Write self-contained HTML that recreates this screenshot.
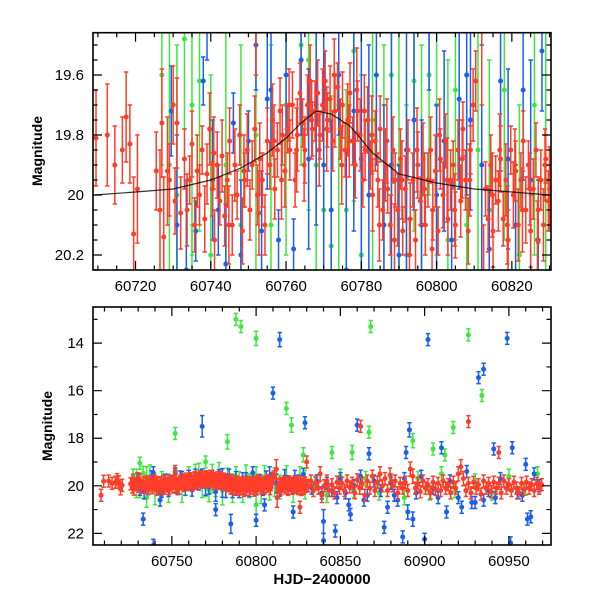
<!DOCTYPE html>
<html><head><meta charset="utf-8"><style>
html,body{margin:0;padding:0;background:#fff;width:600px;height:600px;overflow:hidden;}
#wrap{position:absolute;left:0;top:0;width:600px;height:600px;overflow:hidden;}
svg{position:absolute;left:0;top:0;display:block;overflow:hidden;font-family:"Liberation Sans",Arial,sans-serif;}
</style></head><body>
<div id="wrap">
<svg id="chart" width="600" height="600" viewBox="0 0 600 600" xmlns="http://www.w3.org/2000/svg">
<defs>
<clipPath id="clipTop"><rect x="93" y="32.7" width="458" height="237.3"/></clipPath>
<clipPath id="clipBot"><rect x="93" y="307" width="458" height="238"/></clipPath>
</defs>
<g id="top"></g>
<g id="bot"></g>
<text transform="translate(42,151) rotate(-90)" text-anchor="middle" font-size="14" font-weight="bold">Magnitude</text>
<text transform="translate(52,426) rotate(-90)" text-anchor="middle" font-size="14" font-weight="bold">Magnitude</text>
<text x="322" y="584" text-anchor="middle" font-size="15" font-weight="bold">HJD−2400000</text>
</svg>
</div>
<script>
const NS="http://www.w3.org/2000/svg";
const topXTicks=[60720,60740,60760,60780,60800,60820];
const topYTicks=[19.6,19.8,20,20.2];
const botXTicks=[60750,60800,60850,60900,60950];
const botYTicks=[14,16,18,20,22];
const modelT=[60709,60720,60730,60740,60748,60755,60760,60764,60768,60772,60777,60783,60790,60800,60810,60820,60830];
const modelM=[20.0,19.99,19.98,19.95,19.91,19.86,19.81,19.76,19.72,19.73,19.77,19.86,19.93,19.96,19.98,19.99,20.0];
const redPts=[[60709.5,19.81,.16],[60712.5,19.80,.17],[60714.5,19.90,.13],[60716.5,19.85,.11],[60717.5,19.74,.15],[60718.5,19.83,.13],[60719.5,20.13,.19],[60720.5,19.98,.18],[60725.5,19.92,.13],[60726.5,20.05,.2],[60727,19.76,.18],[60727.5,20.14,.2],[60728.5,19.92,.18],[60729,19.95,.12],[60730,19.70,.13],[60730.5,20.02,.11],[60731,19.76,.15],[60732,20.06,.12],
[60733,19.88,.1],[60733.7,20.05,.12],[60734.4,19.95,.08],[60735,19.83,.11],[60735.7,20.1,.09],[60736.4,19.92,.12],[60737,20.0,.1],[60737.7,19.85,.08],[60738.4,20.08,.11],[60739,19.93,.1],[60739.7,19.78,.12],[60740.4,19.98,.09],[60741,20.15,.1],[60741.7,19.9,.11],[60742.4,20.02,.08],[60743,19.87,.12],[60743.7,20.07,.1],[60744.4,19.95,.09],[60745,19.82,.11],[60745.7,20.1,.1],[60746.4,19.9,.12],[60747,20.0,.08],[60747.7,19.8,.1],[60748.4,20.12,.11],[60749,19.95,.09],[60749.7,19.85,.12],[60750.4,20.05,.1],[60751,19.9,.08],[60751.7,19.78,.11],[60752.4,20.0,.1],[60753,19.88,.12],[60753.7,19.95,.09],[60754.4,20.1,.1],[60755,19.82,.11],[60755.7,19.9,.08],[60756.4,19.75,.12],[60757,19.98,.1],[60757.7,19.85,.09],[60758.4,19.72,.11],[60759,19.8,.1],[60759.7,19.92,.12],[60760.4,19.78,.08],[60761,19.85,.1],[60761.7,19.7,.11],[60762.4,19.95,.09],[60763,19.8,.12],[60763.7,19.66,.1],[60764.4,19.76,.08],[60765,19.85,.11],[60765.7,19.7,.1],[60766.4,19.62,.12],[60767,19.78,.09],[60767.7,19.72,.1],[60768.4,19.66,.11],[60769,19.8,.08],[60769.7,19.7,.12],[60770.4,19.62,.1],[60771,19.75,.09],[60771.7,19.68,.11],[60772.4,19.82,.1],[60773,19.72,.12],[60773.7,19.64,.08],[60774.4,19.78,.1],[60775,19.7,.11],[60775.7,19.85,.09],[60776.4,19.75,.12],[60777,19.66,.1],[60777.7,19.82,.08],[60778.4,19.9,.11],[60779,19.72,.1],[60779.7,19.8,.12],[60780.4,19.95,.09],[60781,19.85,.1],[60781.7,19.75,.11],[60782.4,19.9,.08],[60783,20.0,.12],[60783.7,19.82,.1],[60784.4,19.95,.09],[60785,19.78,.11],[60785.7,20.05,.1],[60786.4,19.9,.12],[60787,19.98,.08],[60787.7,20.1,.1],[60788.4,19.85,.11],[60789,19.95,.09],[60789.7,20.05,.12],[60790.4,19.88,.1],[60791,20.12,.08],[60791.7,19.98,.11],[60792.4,19.85,.1],[60793,20.08,.12],[60793.7,19.95,.09],[60794.4,20.15,.1],[60795,19.9,.11],[60795.7,20.02,.08],[60796.4,19.88,.12],[60797,20.1,.1],[60797.7,19.95,.09],[60798.4,19.85,.11],[60799,20.05,.1],[60799.7,19.92,.12],[60800.4,20.12,.08],[60801,19.88,.1],[60801.7,20.0,.11],[60802.4,19.82,.09],[60803,20.08,.12],[60803.7,19.95,.1],[60804.4,19.9,.08],[60805,20.1,.11],[60805.7,19.85,.1],[60806.4,20.02,.12],[60807,19.78,.09],[60807.7,19.95,.1],[60808.4,20.12,.11],[60809,19.85,.08],[60809.7,19.7,.12],[60810.4,19.62,.1],[60813,19.98,.09],[60813.7,20.08,.11],[60814.4,19.9,.1],[60815,20.12,.12],[60815.7,19.95,.08],[60816.4,20.02,.1],[60817,19.88,.11],[60817.7,20.08,.09],[60818.4,19.95,.12],[60819,20.15,.1],[60819.7,19.85,.08],[60820.4,20.0,.11],[60821,19.92,.1],[60821.7,20.1,.12],[60822.4,19.95,.09],[60823,19.82,.1],[60823.7,20.05,.11],[60824.4,19.9,.08],[60825,20.12,.12],[60825.7,19.98,.1],[60826.4,19.85,.09],[60827,20.05,.11],[60827.7,19.95,.1],[60828.4,20.1,.12],[60829,19.88,.08],[60829.7,20.02,.1],
[60740.8,19.86,.12],[60744.8,20.1,.13],[60748.8,19.92,.12],[60752.8,20.06,.14],[60756.8,19.82,.12],[60758.8,19.95,.13],[60760.8,19.7,.12],[60762.8,19.85,.14],[60764.8,19.9,.12],[60766.8,19.75,.13],[60768.8,19.85,.12],[60770.8,19.78,.14],[60772.8,19.6,.12],[60774.8,19.9,.13],[60776.8,19.82,.12],[60778.8,19.65,.14],[60780.8,19.72,.12],[60782.8,19.8,.13],[60784.8,20.1,.12],[60786.8,19.82,.14],[60788.8,20.15,.12],[60790.8,19.95,.13],[60792.8,20.2,.12],[60794.8,19.85,.14],[60796.8,19.98,.12],[60798.8,20.18,.13],[60800.8,19.8,.12],[60802.8,19.95,.14],[60804.8,20.05,.12],[60806.8,19.88,.13],[60808.8,19.95,.12],[60814.8,20.0,.14],[60816.8,19.85,.12],[60818.8,20.1,.13],[60820.8,19.9,.12],[60822.8,20.05,.14],[60824.8,19.98,.12],[60826.8,20.15,.13],[60828.8,19.9,.12],[60830,19.98,.14],
[60831,20.0,.2],[60832.5,19.8,.25],[60834,20.2,.2],[60835.5,19.9,.2],[60837,20.1,.25],[60838,19.5,.3],[60839,20.4,.3],[60840.5,20.0,.2],[60842,19.8,.2],[60843.5,20.2,.25],[60845,19.95,.2],[60846.5,20.3,.2],[60848,19.85,.2],[60849.5,20.1,.25],[60851,19.9,.2],[60852.5,20.2,.2],[60854,19.8,.25],[60855.5,20.05,.2],[60857,19.9,.2],[60858.5,20.3,.25],[60860,19.75,.2],[60861.5,20.1,.2],[60863,19.9,.25],[60864.5,20.4,.2],[60866,19.8,.2],[60867.5,20.1,.25],[60869,19.6,.2],[60870.5,20.2,.2],[60872,19.85,.25],[60873.5,19.5,.3],[60875,20.0,.2],[60876.5,19.7,.25],[60878,20.2,.2],[60879.5,19.55,.3],[60881,20.0,.2],[60882.5,19.8,.25],[60884,20.3,.2],[60885.5,19.9,.2],[60887,20.1,.25],[60888.5,19.85,.2],[60890,20.2,.2],[60891.5,19.3,.3],[60893,19.6,.3],[60894.5,20.1,.25],[60896,19.9,.2],[60897.5,20.25,.2],[60899,19.8,.25],[60900.5,20.1,.2],[60902,19.95,.2],[60903.5,20.3,.25],[60905,19.85,.2],[60906.5,20.15,.2],[60908,19.9,.25],[60909.5,20.2,.2],[60911,19.8,.2],[60912.5,20.1,.25],[60914,19.95,.2],[60915.5,20.3,.2],[60917,19.85,.25],[60918.5,20.1,.2],[60920,19.5,.3],[60921.5,19.2,.3],[60923,19.7,.3],[60924.5,20.2,.25],[60926,19.9,.2],[60927.5,20.3,.2],[60929,19.85,.25],[60930.5,20.1,.2],[60932,19.95,.2],[60933.5,20.35,.25],[60935,19.8,.2],[60936.5,20.1,.2],[60938,19.9,.25],[60939.5,20.25,.2],[60941,19.85,.2],[60942.5,20.1,.25],[60944,19.9,.2],[60945.5,20.3,.2],[60947,19.8,.25],[60948.5,20.1,.2],[60950,19.95,.2],[60951.5,20.2,.25],[60953,19.85,.2],[60954.5,20.1,.2],[60956,20.3,.25],[60957.5,19.9,.2],[60959,20.15,.2],[60960.5,19.85,.25],[60962,20.1,.2],[60963.5,19.95,.2],[60965,20.2,.25],[60966.5,19.9,.2],[60968,20.1,.2],[60969.5,19.95,.2],
[60862,17.5,.2],[60926,17.3,.2],[60944,18.6,.25],[60752,19.4,.2],[60826,20.9,.2],[60708,20.4,.2],[60830,19.0,.2],[60812,19.3,.4],[60812.5,20.5,.4]];
const bluePts=[[60729.5,19.72,.15],[60731,20.1,.3],[60733.5,20.25,.3],[60736,20.12,.1],[60738,19.62,.08],[60739,19.45,.1],[60740.5,19.95,.2],[60742,20.05,.15],[60744,20.23,.2],[60746,19.76,.1],[60748,20.2,.25],[60750,19.82,.1],[60752,19.5,.15],[60753.5,20.12,.2],[60755,19.68,.3],[60756,19.65,.2],[60758,20.15,.1],[60760,19.6,.2],[60762,20.18,.1],[60764,19.55,.25],[60766,19.88,.3],[60768,19.7,.4],[60770,19.9,.5],[60772,20.05,.3],[60774,19.6,.2],[60776,20.25,.4],[60778,19.72,.4],[60780,19.88,.6],[60782,20.0,.5],[60784,19.6,.3],[60786,20.1,.4],[60788,19.9,.5],[60790,20.2,.3],[60792,19.85,.4],[60794,19.75,.3],[60796,20.1,.35],[60798,19.45,.2],[60800,20.0,.3],[60802,19.82,.3],[60804,20.15,.2],[60806,19.68,.3],[60808,19.6,.4],[60809,19.75,.3],[60812,19.9,.4],[60814,20.18,.2],[60817,19.62,.3],[60819,19.88,.3],[60821,20.1,.2],[60823,19.65,.3],[60825,19.95,.4],[60827,20.15,.2],[60828,19.52,.2],
[60833,20.1,.2],[60836,19.8,.2],[60839,20.3,.2],[60842,19.9,.2],[60845,20.2,.2],[60850,19.7,.2],[60853,20.3,.2],[60858,20.0,.2],[60862,19.6,.2],[60866,20.4,.2],[60870,19.8,.2],[60874,20.2,.2],[60880,19.9,.2],[60884,20.6,.2],[60888,19.7,.2],[60895,20.3,.2],[60898,19.6,.2],[60905,20.1,.2],[60915,19.8,.2],[60920,20.5,.2],[60925,19.4,.2],[60928,20.7,.2],[60938,20.2,.2],[60945,19.7,.2],[60955,20.3,.2],[60960,19.1,.2],[60965,19.5,.2],[60968,20.0,.2],
[60848,20.5,.2],[60864,20.6,.2],[60882,20.4,.2],[60908,20.5,.2],[60935,20.6,.2],[60942,20.5,.2],[60958,20.4,.2],[60855,20.8,.2],[60930,20.7,.2],
[60814,13.85,.3],[60902,13.85,.25],[60949,13.8,.25],[60932,15.45,.2],[60935,15.1,.2],[60810,16.1,.15],[60768,17.5,.45],[60829,17.35,.2],[60860,17.45,.2],[60891,17.65,.3],[60910,18.4,.25],[60941,18.45,.2],[60952,18.4,.15],[60889,18.6,.2],[60867,18.65,.25],[60733,21.4,.15],[60785,21.6,.4],[60800,21.45,.2],[60847,21.9,.15],[60876,21.75,.15],[60887,22.15,.15],[60900,22.25,.2],[60951,22.4,.2],[60739,22.5,.2],[60840,22.3,.3],[60840,21.5,.5],[60776,21.0,.15],[60822,21.1,.15],[60856,21.2,.2],[60913,21.1,.15],[60963,21.3,.2],[60961,21.4,.2],[60743,20.6,.2],[60805,20.8,.2],[60878,20.9,.2],[60922,20.9,.2],[60890,21.1,.3],[60893,21.4,.3]];
const greenPts=[[60727,19.6,.3],[60729,19.9,.6],[60731,20.0,.5],[60733,19.48,.3],[60735,19.7,.5],[60737,19.62,.5],[60740,20.2,.6],[60744,19.9,.5],[60748,20.1,.6],[60752,19.8,.5],[60756,20.1,.6],[60760,19.7,.5],[60764,19.5,.4],[60766,19.55,.5],[60768,19.9,.6],[60770,20.05,.4],[60772,20.17,.5],[60774,19.7,.6],[60776,20.05,.4],[60778,19.52,.5],[60780,20.2,.6],[60783,19.75,.5],[60786,20.1,.6],[60788,19.6,.4],[60790,19.9,.5],[60792,20.2,.5],[60794,19.62,.5],[60796,20.0,.5],[60798,19.6,.4],[60800,19.7,.5],[60803,20.15,.6],[60805,19.65,.5],[60808,20.1,.5],[60811,19.85,.6],[60814,20.05,.5],[60818,19.65,.5],[60822,20.2,.5],[60826,19.7,.5],[60829,19.95,.6],
[60835,19.9,.3],[60842,20.4,.3],[60850,19.6,.3],[60858,20.2,.3],[60865,19.7,.3],[60873,20.3,.3],[60880,19.8,.3],[60888,20.5,.3],[60896,19.7,.3],[60903,20.3,.3],[60910,19.5,.3],[60918,20.2,.3],[60930,19.8,.3],[60940,20.3,.3],[60950,19.6,.3],[60960,20.1,.3],[60967,19.5,.3],
[60788,13.0,.15],[60791,13.3,.15],[60800,13.8,.3],[60868,13.3,.25],[60926,13.65,.25],[60934,16.2,.25],[60818,16.75,.1],[60821,17.45,.3],[60867,17.75,.2],[60752,17.8,.15],[60783,18.15,.3],[60917,17.55,.1],[60893,18.1,.3],[60905,18.45,.25],[60912,18.7,.25],[60845,18.6,.2],[60857,18.6,.3],[60828,18.7,.3],[60731,19.05,.15],[60770,19.0,.15],[60800,20.8,.4],[60735,20.5,.4]];

function el(tag,attrs,parent){const e=document.createElementNS(NS,tag);for(const k in attrs)e.setAttribute(k,attrs[k]);parent.appendChild(e);return e;}
function scale(d0,d1,r0,r1){return v=>r0+(v-d0)/(d1-d0)*(r1-r0);}

function panel(g,cfg){
  const X=scale(cfg.xd[0],cfg.xd[1],cfg.x0,cfg.x1);
  const Y=scale(cfg.yd[0],cfg.yd[1],cfg.y0,cfg.y1);
  const data=el('g',{'clip-path':'url(#'+cfg.clip+')'},g);
  
  
  const series=[['green',greenPts,'#3de83d'],['blue',bluePts,'#1a5ff0'],['red',redPts,'#ff3d28']];
  series.forEach(([nm,pts,col])=>{
    const sg=el('g',{stroke:col,fill:col,'stroke-width':1.5},data);
    
    
    pts.forEach(p=>{
      if(p[0]<cfg.xd[0]||p[0]>cfg.xd[1])return;
      if(p[1]+p[2]<cfg.yd[0]||p[1]-p[2]>cfg.yd[1])return;
      const x=X(p[0]),y=Y(p[1]);
      let h=Math.abs(Y(p[1]+p[2])-y);if(h<cfg.minBar)h=cfg.minBar;
      const ya=Math.max(y-h,cfg.y0-3),yb=Math.min(y+h,cfg.y1+3);
      el('path',{d:`M${x},${ya}V${yb}M${x-2.2},${ya}H${x+2.2}M${x-2.2},${yb}H${x+2.2}`,fill:'none'},sg);
      if(y>=cfg.y0-3&&y<=cfg.y1+3){
        const c=el('circle',{cx:x,cy:y,r:2.5,stroke:'none'},sg);
        
        
      }
    });
  });
  if(cfg.model){
    let d='';modelT.forEach((t,i)=>{d+=(i?'L':'M')+X(t).toFixed(1)+','+Y(modelM[i]).toFixed(1);});
    const p=el('path',{d:d,fill:'none',stroke:'#000','stroke-width':1.2,opacity:0.8},data);
    
    
  }
  const fr=el('rect',{x:cfg.x0,y:cfg.y0,width:cfg.x1-cfg.x0,height:cfg.y1-cfg.y0,fill:'none',stroke:'#000','stroke-width':1.6},g);
  
  
  const tk=el('g',{stroke:'#000','stroke-width':1.2},g);
  
  
  for(let v=Math.ceil(cfg.xd[0]/cfg.xm)*cfg.xm;v<=cfg.xd[1];v+=cfg.xm){
    const major=Math.abs(v/cfg.xM-Math.round(v/cfg.xM))<1e-6,L=major?9:4.5,x=X(v);
    el('path',{d:`M${x},${cfg.y1}v${-L}M${x},${cfg.y0}v${L}`},tk);
  }
  for(let i=Math.ceil(cfg.yd[0]/cfg.ym-1e-6);i*cfg.ym<=cfg.yd[1]+1e-9;i++){
    const v=i*cfg.ym;const major=Math.abs(v/cfg.yM-Math.round(v/cfg.yM))<1e-6,L=major?9:4.5,y=Y(v);
    el('path',{d:`M${cfg.x0},${y}h${L}M${cfg.x1},${y}h${-L}`},tk);
  }
  cfg.xt.forEach(v=>{
    const t=el('text',{x:X(v),y:cfg.y1+21,'text-anchor':'middle','font-size':15},g);t.textContent=v;
    
    
  });
  cfg.yt.forEach(v=>{
    const t=el('text',{x:cfg.x0-9,y:Y(v)+5,'text-anchor':'end','font-size':15},g);t.textContent=v;
    
    
  });
}
panel(document.getElementById('top'),{x0:93,x1:551,y0:32.7,y1:270,xd:[60708.7,60830.4],yd:[19.459,20.25],xm:5,xM:20,ym:0.05,yM:0.2,xt:topXTicks,yt:topYTicks,clip:'clipTop',model:true,minBar:0});
panel(document.getElementById('bot'),{x0:93,x1:551,y0:307,y1:545,xd:[60703.2,60975],yd:[12.48,22.49],xm:10,xM:50,ym:1,yM:2,xt:botXTicks,yt:botYTicks,clip:'clipBot',model:false,minBar:6});
</script>
</body></html>
